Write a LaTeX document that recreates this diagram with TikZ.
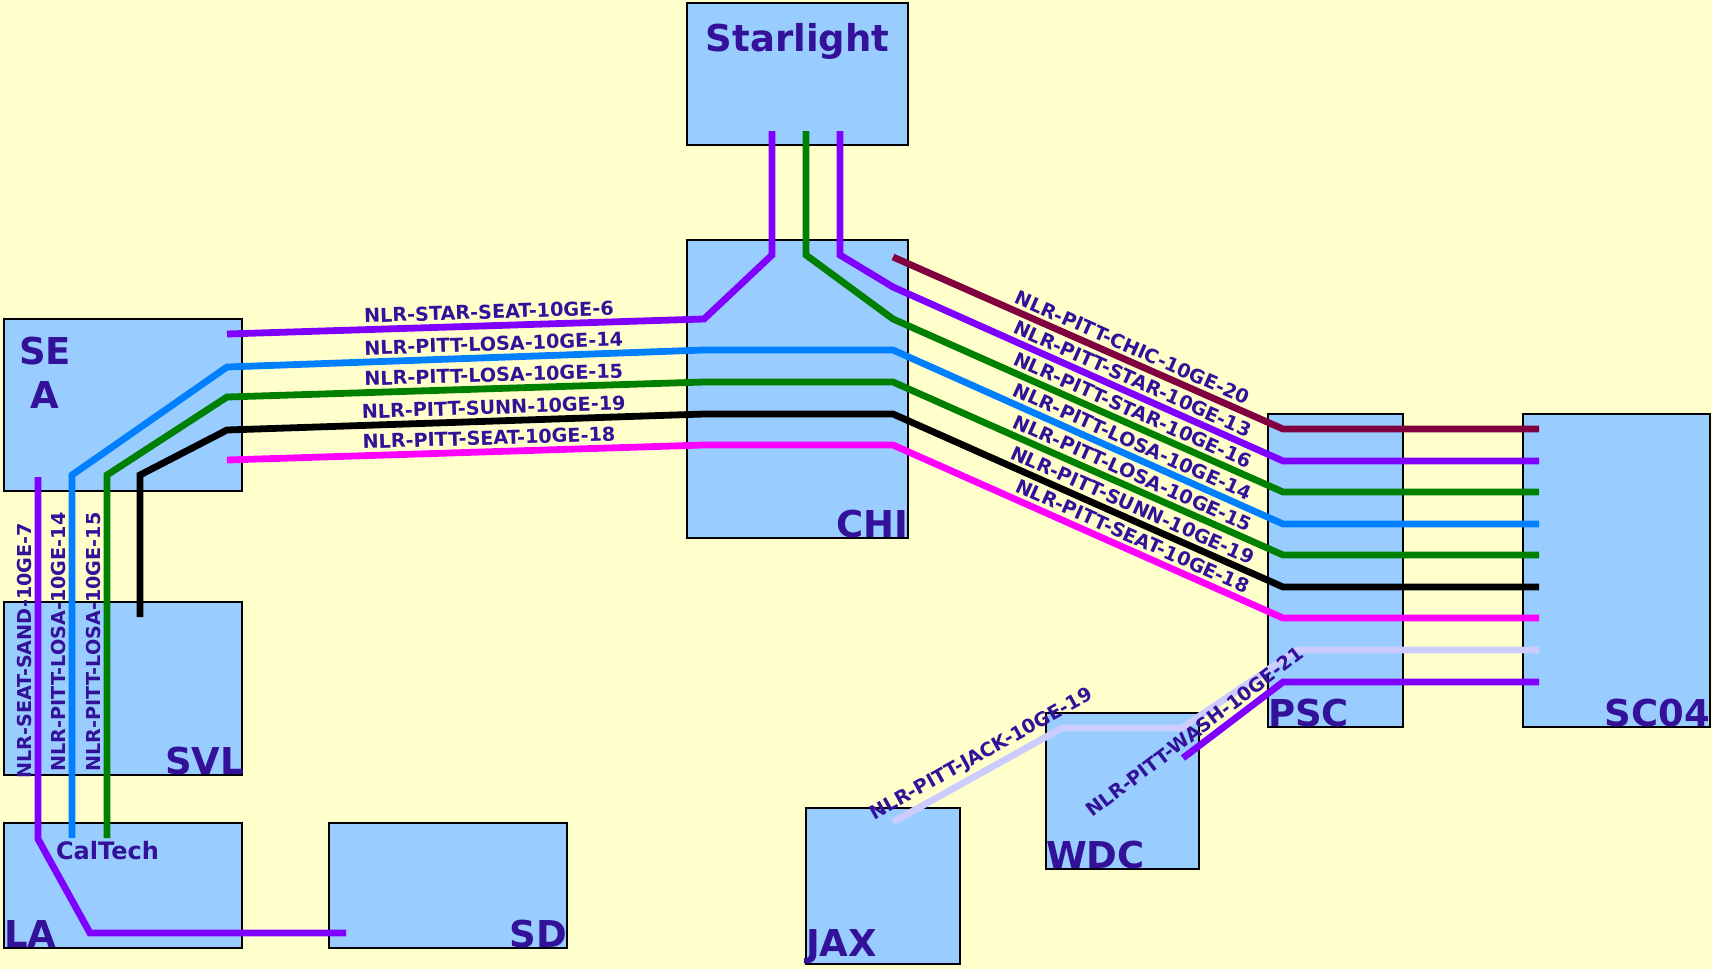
\documentclass[tikz,border=0pt]{standalone}
\usepackage{fontspec}
\setmainfont{DejaVu Sans}
\usetikzlibrary{positioning}

\definecolor{bgyellow}{HTML}{FFFFCC}
\definecolor{boxblue}{HTML}{99CCFF}
\definecolor{inkblue}{RGB}{51,17,153}
\definecolor{lnpurple}{HTML}{8000FF}
\definecolor{lnblue}{HTML}{0080FF}
\definecolor{lngreen}{HTML}{008000}
\definecolor{lnmagenta}{HTML}{FF00FF}
\definecolor{lnmaroon}{HTML}{800040}
\definecolor{lnlav}{HTML}{CCCCFF}

\begin{document}
\begin{tikzpicture}[
  x=0.5pt, y=-0.5pt,
  sitebox/.style={draw=black, line width=1.3pt, fill=boxblue, inner sep=0pt},
  sitename/.style={text=inkblue, font=\bfseries\fontsize{18.5}{22}\selectfont, inner sep=0.5pt},
  lnk/.style={line width=3.4pt},
  lnklbl/.style={text=inkblue, font=\bfseries\fontsize{9.6}{11}\selectfont, sloped, above, inner sep=1.6pt}
]
% Background
\fill[bgyellow] (0,0) rectangle (1712,969);
\useasboundingbox (0,0) rectangle (1712,969);

% Sites
\node[sitebox, minimum width=110.5pt, minimum height=71pt] (star) at (797.5,74) {};
\node[sitebox, minimum width=110.5pt, minimum height=149pt] (chi) at (797.5,389) {};
\node[sitebox, minimum width=119pt, minimum height=86pt] (sea) at (123,405) {};
\node[sitebox, minimum width=119pt, minimum height=86.5pt] (svl) at (123,688.5) {};
\node[sitebox, minimum width=119pt, minimum height=62.5pt] (la) at (123,885.5) {};
\node[sitebox, minimum width=119pt, minimum height=62.5pt] (sd) at (448,885.5) {};
\node[sitebox, minimum width=77pt, minimum height=78pt] (jax) at (883,886) {};
\node[sitebox, minimum width=76.5pt, minimum height=78pt] (wdc) at (1122.5,791) {};
\node[sitebox, minimum width=67.5pt, minimum height=156.5pt] (psc) at (1335.5,570.5) {};
\node[sitebox, minimum width=93.5pt, minimum height=156.5pt] (sc) at (1616.5,570.5) {};

% Waypoints
\coordinate (st1) at (772,131); \coordinate (st2) at (806,131); \coordinate (st3) at (840,131);
\coordinate (ch1) at (772,255); \coordinate (ch2) at (806,255); \coordinate (ch3) at (840,255);
\coordinate (cw1) at (704,319); \coordinate (cw2) at (704,350); \coordinate (cw3) at (704,382);
\coordinate (cw4) at (704,414); \coordinate (cw5) at (704,445);
\coordinate (ce0) at (893,257); \coordinate (ce1) at (893,287); \coordinate (ce2) at (893,319);
\coordinate (ce3) at (893,350); \coordinate (ce4) at (893,382); \coordinate (ce5) at (893,414);
\coordinate (ce6) at (893,445);
\coordinate (se1) at (227,334); \coordinate (se2) at (227,367); \coordinate (se3) at (227,397);
\coordinate (se4) at (227,430); \coordinate (se5) at (227,460);
\coordinate (sb1) at (38,477); \coordinate (sb2) at (72,475); \coordinate (sb3) at (107,475);
\coordinate (sb4) at (140,475); \coordinate (svb) at (140,617);
\coordinate (la1) at (38,839); \coordinate (la2) at (72,838); \coordinate (la3) at (107,838);
\coordinate (lab) at (90,933); \coordinate (sdend) at (346,933);
\coordinate (jx) at (893,822); \coordinate (wd1) at (1062,728); \coordinate (wd2) at (1182,728);
\coordinate (wd3) at (1183,758);
\coordinate (pw0) at (1283,429); \coordinate (pw1) at (1283,461); \coordinate (pw2) at (1283,492);
\coordinate (pw3) at (1283,524); \coordinate (pw4) at (1283,555); \coordinate (pw5) at (1283,587);
\coordinate (pw6) at (1283,618); \coordinate (pw7) at (1297,650); \coordinate (pw8) at (1283,682);
\coordinate (sc0) at (1539,429); \coordinate (sc1) at (1539,461); \coordinate (sc2) at (1539,492);
\coordinate (sc3) at (1539,524); \coordinate (sc4) at (1539,555); \coordinate (sc5) at (1539,587);
\coordinate (sc6) at (1539,618); \coordinate (sc7) at (1539,650); \coordinate (sc8) at (1539,682);

% Links
\draw[lnk, lnpurple] (sdend) -- (lab) -- (la1) -- node[lnklbl, pos=0.52] {NLR-SEAT-SAND-10GE-7} (sb1);
\draw[lnk, lnpurple] (se1) -- node[lnklbl, pos=0.55] {NLR-STAR-SEAT-10GE-6} (cw1) -- (ch1) -- (st1);
\draw[lnk, lnblue] (la2) -- node[lnklbl, pos=0.54] {NLR-PITT-LOSA-10GE-14} (sb2) -- (se2)
  -- node[lnklbl, pos=0.56] {NLR-PITT-LOSA-10GE-14} (cw2) -- (ce3)
  -- node[lnklbl, pos=0.6] {NLR-PITT-LOSA-10GE-14} (pw3) -- (sc3);
\draw[lnk, lngreen] (la3) -- node[lnklbl, pos=0.54] {NLR-PITT-LOSA-10GE-15} (sb3) -- (se3)
  -- node[lnklbl, pos=0.56] {NLR-PITT-LOSA-10GE-15} (cw3) -- (ce4)
  -- node[lnklbl, pos=0.6] {NLR-PITT-LOSA-10GE-15} (pw4) -- (sc4);
\draw[lnk, black] (svb) -- (sb4) -- (se4)
  -- node[lnklbl, pos=0.56] {NLR-PITT-SUNN-10GE-19} (cw4) -- (ce5)
  -- node[lnklbl, pos=0.6] {NLR-PITT-SUNN-10GE-19} (pw5) -- (sc5);
\draw[lnk, lnmagenta] (se5) -- node[lnklbl, pos=0.55] {NLR-PITT-SEAT-10GE-18} (cw5) -- (ce6)
  -- node[lnklbl, pos=0.6] {NLR-PITT-SEAT-10GE-18} (pw6) -- (sc6);
\draw[lnk, lngreen] (st2) -- (ch2) -- (ce2) -- node[lnklbl, pos=0.6] {NLR-PITT-STAR-10GE-16} (pw2) -- (sc2);
\draw[lnk, lnpurple] (st3) -- (ch3) -- (ce1) -- node[lnklbl, pos=0.6] {NLR-PITT-STAR-10GE-13} (pw1) -- (sc1);
\draw[lnk, lnmaroon] (ce0) -- node[lnklbl, pos=0.6] {NLR-PITT-CHIC-10GE-20} (pw0) -- (sc0);
\draw[lnk, lnlav] (jx) -- node[lnklbl, pos=0.57] {NLR-PITT-JACK-10GE-19} (wd1) -- (wd2) -- (pw7) -- (sc7);
\draw[lnk, lnpurple] (wd3) -- node[lnklbl, pos=0.2] {NLR-PITT-WASH-10GE-21} (pw8) -- (sc8);

% Site names
\node[sitename, anchor=north] (starlbl) at ([yshift=-10pt]star.north) {Starlight};
\node[sitename, anchor=north, align=center] (sealbl) at ([xshift=-39pt, yshift=-9pt]sea.north) {SE\\A};
\node[sitename, anchor=south east] (chilbl) at (chi.south east) {CHI};
\node[sitename, anchor=south east] (svllbl) at ([xshift=1pt]svl.south east) {SVL};
\node[sitename, anchor=south west] (lalbl) at (la.south west) {LA};
\node[sitename, anchor=south east] (sdlbl) at (sd.south east) {SD};
\node[sitename, anchor=south west] (jaxlbl) at (jax.south west) {JAX};
\node[sitename, anchor=south west] (wdclbl) at (wdc.south west) {WDC};
\node[sitename, anchor=south west] (psclbl) at (psc.south west) {PSC};
\node[sitename, anchor=south east] (sclbl) at (sc.south east) {SC04};
\node[text=inkblue, font=\bfseries\fontsize{12}{14}\selectfont, anchor=north west, inner sep=0pt]
  (caltech) at ([xshift=26.5pt, yshift=-9.5pt]la.north west) {CalTech};
\end{tikzpicture}
\end{document}
